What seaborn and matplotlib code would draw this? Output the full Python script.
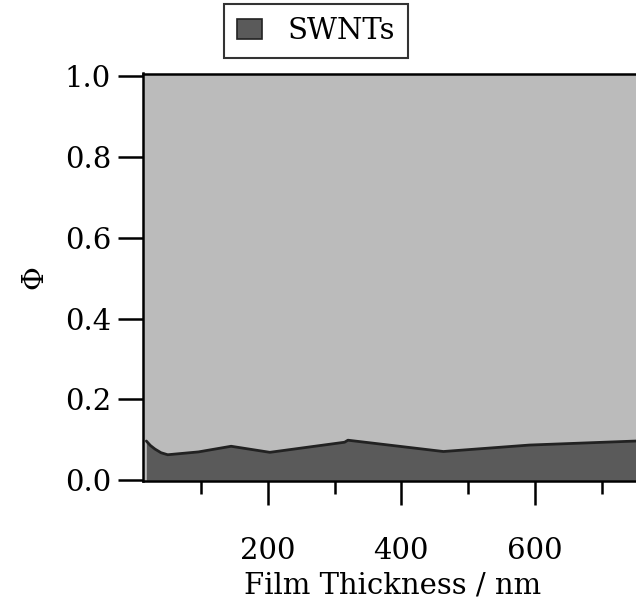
import matplotlib
matplotlib.use("Agg")
import matplotlib.pyplot as plt
import seaborn as sns
import pandas as pd
from matplotlib.ticker import FixedLocator

# Film thickness (nm) and SWNT fraction Phi
thickness = [18, 24, 31, 40, 50, 96, 145, 203, 315, 320, 463, 592, 752]
phi = [0.097, 0.086, 0.077, 0.068, 0.063, 0.070, 0.084, 0.069, 0.094, 0.099, 0.071, 0.087, 0.097]
series_name = "SWNTs"
y_ticks = [0.0, 0.2, 0.4, 0.6, 0.8, 1.0]
y_tick_labels = ["0.0", "0.2", "0.4", "0.6", "0.8", "1.0"]
x_major = [200, 400, 600]
x_minor = [100, 300, 500, 700]

df = pd.DataFrame({"thickness": thickness, "phi": phi})

sns.set_theme(style="ticks")
plt.rcParams["font.family"] = ["DejaVu Serif"]
plt.rcParams["font.size"] = 21
for key in ["text.color", "axes.labelcolor", "xtick.color", "ytick.color",
            "xtick.labelcolor", "ytick.labelcolor"]:
    plt.rcParams[key] = "black"

fig = plt.figure(figsize=(6.36, 6.05), dpi=100)
ax = fig.add_axes([143 / 636, 1 - 481 / 605, 500 / 636, (481 - 73.5) / 605])
ax.set_facecolor("#bbbbbb")

ax.fill_between(df["thickness"], 0, df["phi"], color="#5a5a5a", linewidth=0,
                label=series_name)
sns.lineplot(data=df, x="thickness", y="phi", ax=ax, color="#222222",
             linewidth=2, legend=False)

ax.set_xlim(13, 762)
ax.set_ylim(-0.002, 1.007)

ax.yaxis.set_major_locator(FixedLocator(y_ticks))
ax.set_yticklabels(y_tick_labels)
ax.xaxis.set_major_locator(FixedLocator(x_major))
ax.xaxis.set_minor_locator(FixedLocator(x_minor))

ax.tick_params(axis="y", which="major", length=18, width=1.8, pad=5,
               labelsize=21, color="black")
ax.tick_params(axis="x", which="major", length=17, width=1.8, pad=23,
               labelsize=21, color="black")
ax.tick_params(axis="x", which="minor", length=9, width=1.8, color="black")

for side in ["left", "bottom", "top", "right"]:
    ax.spines[side].set_linewidth(1.8)
    ax.spines[side].set_color("black")

ax.set_xlabel("Film Thickness / nm", fontsize=21, labelpad=5)
ax.set_ylabel("Φ", fontsize=21, labelpad=12)

leg = fig.legend(loc="upper center", bbox_to_anchor=(316 / 636, 1 - 4 / 605),
                 frameon=True, fancybox=False, edgecolor="black",
                 fontsize=21, handlelength=0.85, handleheight=0.7,
                 handletextpad=0.85, borderpad=0.45, borderaxespad=0)
leg.get_frame().set_linewidth(1.5)
for h in leg.legend_handles:
    h.set_edgecolor("#222222")
    h.set_linewidth(1.2)

fig.savefig("out.png", dpi=100)
